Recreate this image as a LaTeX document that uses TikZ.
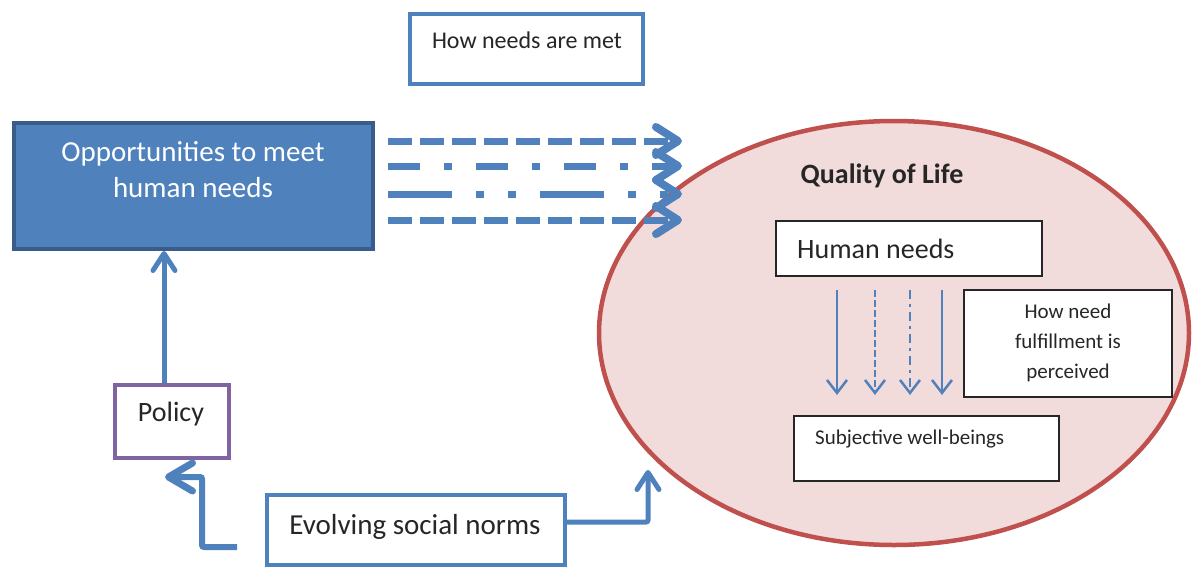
\documentclass[tikz,border=0pt]{standalone}
\usepackage{fontspec}
\setmainfont{Carlito}
\usetikzlibrary{arrows.meta,shapes.geometric}
\definecolor{ofblue}{HTML}{4F81BD}
\definecolor{ofdark}{HTML}{385D8A}
\definecolor{ofred}{HTML}{C0504D}
\definecolor{ofpink}{HTML}{F2DCDB}
\definecolor{ofpurple}{HTML}{8064A2}
\definecolor{ofgray}{HTML}{262626}
\tikzset{
  frame/.style={draw, rectangle, inner sep=0pt},
  bluebox/.style={frame, draw=ofblue, line width=4pt, fill=white},
  blackbox/.style={frame, draw=ofgray, line width=2pt, fill=white},
  wide/.style={draw=ofblue, line width=7pt, -{Straight Barb[length=22pt,width=28pt,line width=8pt,round]}},
  fat/.style={draw=ofblue, line width=6pt, -{Straight Barb[length=24pt,width=28pt,line width=7pt,round]}},
  mid/.style={draw=ofblue, line width=5pt, -{Straight Barb[length=17pt,width=22pt,line width=5pt,round]}},
  slim/.style={draw=ofblue, line width=2.2pt, -{Straight Barb[length=13pt,width=20pt,line width=2.5pt]}},
  dashA/.style={dash pattern=on 24pt off 8pt},
  dashB/.style={dash pattern=on 32pt off 24pt on 8pt off 24pt},
  dashC/.style={dash pattern=on 64pt off 24pt on 8pt off 24pt on 8pt off 24pt},
  full/.style={},
  dotted2/.style={dash pattern=on 7pt off 3pt},
  dashdot2/.style={dash pattern=on 9pt off 5pt on 3pt off 5pt},
}
\newcommand{\fs}[2]{\fontsize{#1}{#2}\selectfont}

\begin{document}
\begin{tikzpicture}[x=1pt, y=-1pt]
  %%%%% START %%%%%
  \useasboundingbox (0,0) rectangle (1192,571);

  % quality of life
  \node[ellipse, draw=ofred, line width=4.5pt, fill=ofpink, minimum width=590pt, minimum height=424pt] (qol) at (894,333) {};
  \node[font=\fs{28}{34}\bfseries, text=black!85] (qoltitle) at (882,176) {Quality of Life};

  \node[blackbox, minimum width=266pt, minimum height=55pt] (needs) at (909,248.5) {};
  \node[anchor=west, font=\fs{28}{34}, text=black!85, inner sep=0pt] (needslabel) at (797,249) {Human needs};

  \node[blackbox, minimum width=208pt, minimum height=107pt] (perceived) at (1068,343.5) {};
  \node[align=center, font=\fs{21}{30}, text=black!85] (perceivedlabel) at (1068,343) {How need\\fulfillment is\\perceived};

  \node[blackbox, minimum width=265pt, minimum height=65pt] (wellbeing) at (926.5,448.5) {};
  \node[anchor=west, font=\fs{21}{26}, text=black!85, inner sep=0pt] (wellbeinglabel) at (815,439) {Subjective well-beings};

  \foreach \x/\sty in {837/full, 875/dotted2, 910/dashdot2, 942/full}
    \draw[slim, \sty] ([yshift=-13pt]needs.south -| \x,0) -- ([yshift=20pt]wellbeing.north -| \x,0);

  % left side
  \node[bluebox, minimum width=233pt, minimum height=70pt] (met) at (526.5,49) {};
  \node[font=\fs{24}{29}, text=black!85] (metlabel) at (527,40) {How needs are met};

  \node[frame, draw=ofpurple, line width=4pt, fill=white, minimum width=114pt, minimum height=73pt] (policy) at (171.5,421) {};
  \node[font=\fs{28}{34}, text=black!85] (policylabel) at (171,414) {Policy};

  \node[frame, draw=ofdark, line width=4pt, fill=ofblue, minimum width=359pt, minimum height=126pt] (opp) at (193.5,186) {};
  \node[align=center, font=\fs{29}{36}, text=white] (opplabel) at (193,170) {Opportunities to meet\\human needs};
  \draw[mid] ([xshift=-7.5pt]policy.north) -- ([xshift=-7.5pt]policy.north |- opp.south);

  \foreach \y/\sty [count=\i] in {141/dashA, 166/dashB, 194/dashC, 220/dashA} {
    \coordinate (tip\i) at (682,\y);
    \draw[wide, \sty] ([xshift=13pt]opp.east |- 0,\y) -- (tip\i);
  }

  \node[bluebox, minimum width=298pt, minimum height=70pt] (norms) at (416,530) {};
  \node[font=\fs{29}{35}, text=black!85] (normslabel) at (415,527) {Evolving social norms};

  \coordinate (normsfoot) at (237,547);
  \coordinate (normsbend) at (202,477);
  \coordinate (policytip) at (165,477);
  \draw[fat, rounded corners=2pt] (normsfoot) -| (normsbend) -- (policytip);

  \coordinate (qolfoot) at (648,470);
  \draw[mid, rounded corners=2pt] ([yshift=8pt]norms.east) -| (qolfoot);
  %%%%% END %%%%%
\end{tikzpicture}
\end{document}
